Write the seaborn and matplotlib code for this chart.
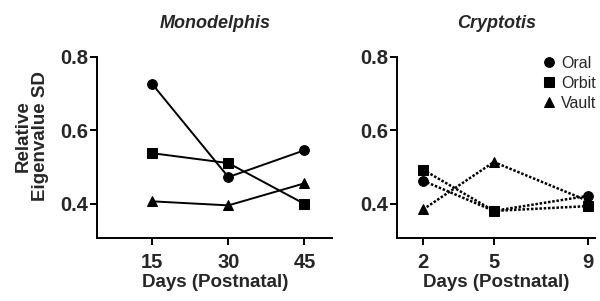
import numpy as np
import pandas as pd
import matplotlib
matplotlib.use("Agg")
import matplotlib.pyplot as plt
import seaborn as sns

# 数据
REGIONS = ["Oral", "Orbit", "Vault"]
MONO_DAYS = [15, 30, 45]
MONO_ORAL = [0.726, 0.473, 0.546]
MONO_ORBIT = [0.538, 0.511, 0.400]
MONO_VAULT = [0.407, 0.396, 0.456]
CRYP_DAYS = [2, 5, 9]
CRYP_ORAL = [0.463, 0.381, 0.422]
CRYP_ORBIT = [0.493, 0.381, 0.394]
CRYP_VAULT = [0.385, 0.514, 0.408]

MARKERS = {"Oral": "o", "Orbit": "s", "Vault": "^"}


def long_df(days, oral, orbit, vault):
    rows = []
    for region, vals in zip(REGIONS, [oral, orbit, vault]):
        for d, v in zip(days, vals):
            rows.append({"day": d, "value": v, "region": region})
    return pd.DataFrame(rows)


mono = long_df(MONO_DAYS, MONO_ORAL, MONO_ORBIT, MONO_VAULT)
cryp = long_df(CRYP_DAYS, CRYP_ORAL, CRYP_ORBIT, CRYP_VAULT)

sns.set_style("ticks")
plt.rcParams["font.family"] = ["Liberation Sans", "DejaVu Sans"]
plt.rcParams["font.weight"] = "bold"

fig = plt.figure(figsize=(6.0, 3.01), dpi=100)
ax1 = fig.add_axes([0.162, 0.209, 0.392, 0.602])
ax2 = fig.add_axes([0.662, 0.209, 0.330, 0.602])

sns.lineplot(data=mono, x="day", y="value", style="region", markers=MARKERS,
             dashes=False, color="black", markersize=7, linewidth=1.4,
             markeredgecolor="black", ax=ax1, legend=False)
sns.lineplot(data=cryp, x="day", y="value", style="region", markers=MARKERS,
             dashes={r: (1, 0.7) for r in REGIONS}, color="black", markersize=7,
             linewidth=1.8, markeredgecolor="black", ax=ax2)

for ax, title, ticks, xlim in [(ax1, "Monodelphis", MONO_DAYS, (4.15, 50.5)),
                               (ax2, "Cryptotis", CRYP_DAYS, (0.9, 9.3))]:
    ax.set_xlim(*xlim)
    ax.set_ylim(0.307, 0.8)
    ax.set_xticks(ticks)
    ax.set_yticks([0.4, 0.6, 0.8])
    ax.set_yticklabels(["0.4", "0.6", "0.8"])
    ax.tick_params(labelsize=14.5, width=1.4, length=5, pad=1.5, color="black")
    ax.tick_params(axis="x", pad=6)
    for lab in ax.get_xticklabels() + ax.get_yticklabels():
        lab.set_fontweight("bold")
    for s in ["left", "bottom"]:
        ax.spines[s].set_linewidth(1.4)
        ax.spines[s].set_color("black")
    sns.despine(ax=ax)
    ax.set_title(title, fontsize=13, fontweight="bold", fontstyle="italic", pad=21)
    ax.set_xlabel("Days (Postnatal)", fontsize=13.5, fontweight="bold", labelpad=1)
    ax.set_ylabel("")

ax1.set_ylabel("Relative\nEigenvalue SD", fontsize=13.5, fontweight="bold",
               linespacing=1.0)
ax1.yaxis.set_label_coords(-0.205, 0.564)

leg = ax2.legend(loc="upper right", frameon=False, fontsize=11.5, handlelength=0.8,
                 handletextpad=0.4, borderaxespad=0.0, labelspacing=0.3,
                 bbox_to_anchor=(1.04, 1.04))
for h in leg.legend_handles:
    h.set_linestyle("none")
for t in leg.get_texts():
    t.set_fontweight("normal")

fig.savefig("out.png", dpi=100)
